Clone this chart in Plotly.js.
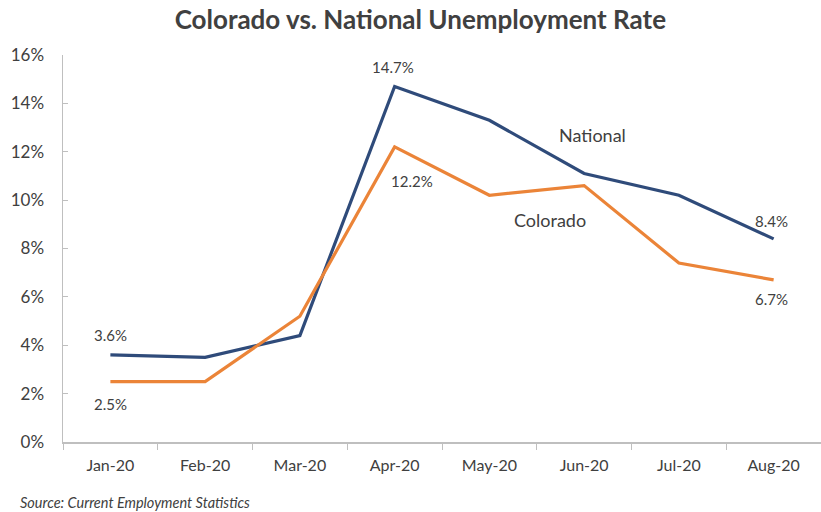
<!DOCTYPE html>
<html>
<head>
<meta charset="utf-8">
<script src="https://cdn.plot.ly/plotly-3.0.1.min.js"></script>
<style>html,body{margin:0;padding:0;background:#fff;}#chart{width:821px;height:512px;}</style>
</head>
<body>
<div id="chart"></div>
<script>
const months = ["Jan-20","Feb-20","Mar-20","Apr-20","May-20","Jun-20","Jul-20","Aug-20"];
const national = [3.6, 3.5, 4.4, 14.7, 13.3, 11.1, 10.2, 8.4];
const colorado = [2.5, 2.5, 5.2, 12.2, 10.2, 10.6, 7.4, 6.7];
const yTicks = [0, 2, 4, 6, 8, 10, 12, 14, 16];

const FONT = "Lato, 'Open Sans', sans-serif";
const TXT = "#404040";

const traces = [
  {x: months, y: national, type: "scatter", mode: "lines", name: "National",
   line: {color: "#2F4B7A", width: 3.2}},
  {x: months, y: colorado, type: "scatter", mode: "lines", name: "Colorado",
   line: {color: "#EB8438", width: 3.2}}
];

function lab(i, arr, xs, ys) {
  return {x: months[i], y: arr[i], xref: "x", yref: "y", text: arr[i].toFixed(1) + "%",
    showarrow: false, xshift: xs, yshift: ys, font: {family: FONT, size: 15, color: TXT}};
}

const annotations = [
  lab(0, national, 0, 20),
  lab(0, colorado, 0, -22),
  lab(3, national, -2, 19),
  lab(3, colorado, 17, -34),
  lab(7, national, -2, 18),
  lab(7, colorado, -2, -19),
  {x: 5.09, y: 12.69, xref: "x", yref: "y", text: "National", showarrow: false,
   font: {family: FONT, size: 18, color: TXT}},
  {x: 4.64, y: 9.18, xref: "x", yref: "y", text: "Colorado", showarrow: false,
   font: {family: FONT, size: 18, color: TXT}},
  {x: -45/758, y: -(503 - 442) / 387, xref: "paper", yref: "paper", xanchor: "left", yanchor: "middle",
   text: "<i>Source: Current Employment Statistics</i>", showarrow: false,
   font: {family: FONT, size: 14.5, color: TXT}}
];

const layout = {
  width: 821, height: 512,
  margin: {l: 63, r: 0, t: 55, b: 70},
  paper_bgcolor: "#fff", plot_bgcolor: "#fff",
  showlegend: false,
  title: {text: "<b>Colorado vs. National Unemployment Rate</b>", x: 0.512, xref: "container",
          y: 0.962, yref: "container", xanchor: "center", yanchor: "middle",
          font: {family: FONT, size: 26, color: TXT}},
  xaxis: {type: "category", range: [-0.5, 7.5], showline: true, linecolor: "#BFBFBF", linewidth: 1.5,
          ticks: "outside", tickson: "boundaries", ticklen: 6, tickcolor: "#BFBFBF",
          showgrid: false, zeroline: false, ticklabelstandoff: 8,
          tickfont: {family: FONT, size: 16, color: TXT}},
  yaxis: {range: [0, 16], tickvals: yTicks, ticktext: yTicks.map(v => v + "%"),
          showline: true, linecolor: "#BFBFBF", linewidth: 1.5, ticks: "inside", ticklen: 5,
          tickcolor: "#BFBFBF", showgrid: false, zeroline: false, ticklabelstandoff: 14,
          tickfont: {family: FONT, size: 17, color: TXT}},
  annotations: annotations
};

Plotly.newPlot("chart", traces, layout, {displayModeBar: false, staticPlot: true});
</script>
</body>
</html>
